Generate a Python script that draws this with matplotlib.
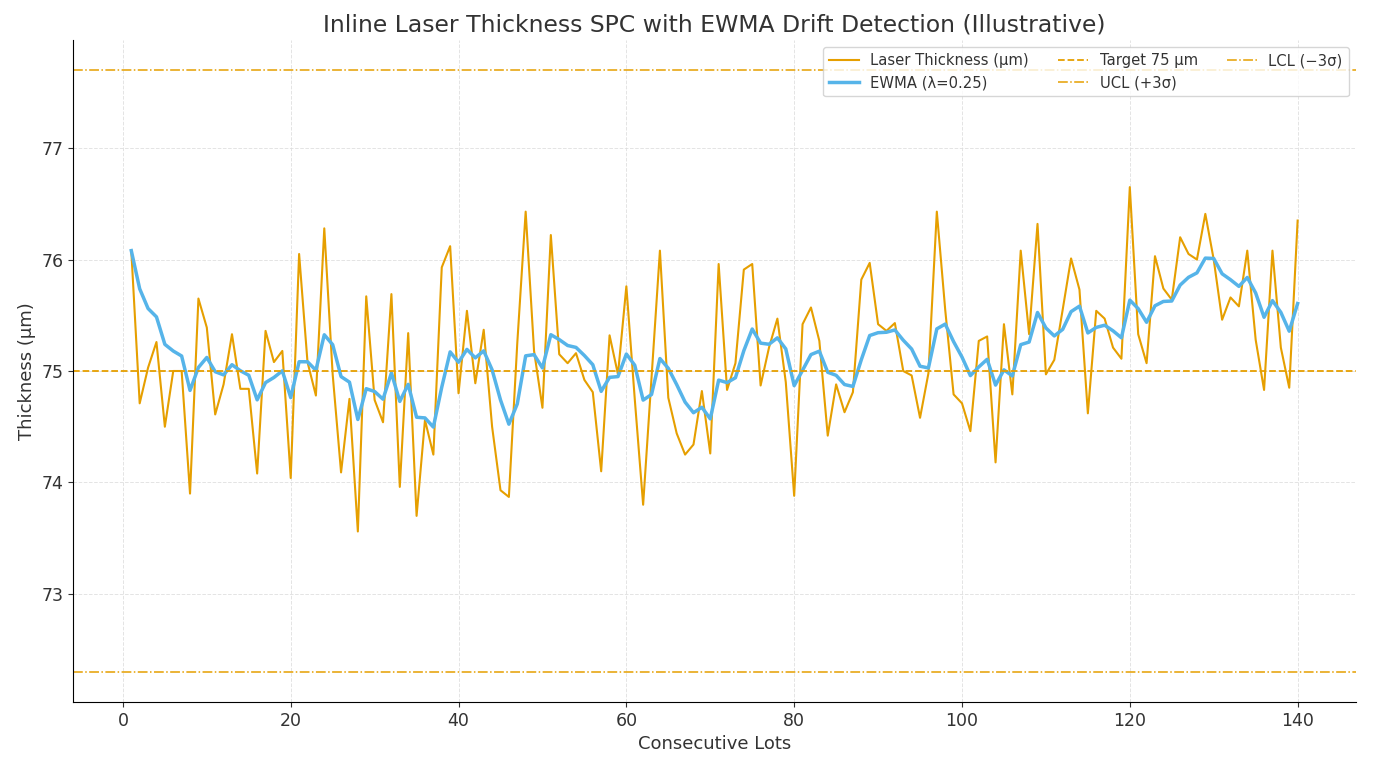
import numpy as np
import matplotlib
matplotlib.use("Agg")
import matplotlib.pyplot as plt

lots = list(range(1, 141))
thickness = [
    76.08, 74.71, 75.03, 75.26, 74.50, 75.00, 75.00, 73.90, 75.65, 75.39,
    74.61, 74.88, 75.33, 74.84, 74.84, 74.08, 75.36, 75.08, 75.18, 74.04,
    76.05, 75.08, 74.78, 76.28, 74.97, 74.09, 74.75, 73.56, 75.67, 74.74,
    74.54, 75.69, 73.96, 75.34, 73.70, 74.56, 74.25, 75.93, 76.12, 74.80,
    75.54, 74.89, 75.37, 74.50, 73.93, 73.87, 75.25, 76.43, 75.18, 74.67,
    76.22, 75.15, 75.07, 75.16, 74.92, 74.81, 74.10, 75.32, 74.97, 75.76,
    74.75, 73.80, 74.94, 76.08, 74.76, 74.44, 74.25, 74.34, 74.82, 74.26,
    75.96, 74.83, 75.07, 75.91, 75.96, 74.87, 75.21, 75.47, 74.90, 73.88,
    75.42, 75.57, 75.27, 74.42, 74.88, 74.63, 74.81, 75.82, 75.97, 75.42,
    75.36, 75.43, 75.00, 74.96, 74.58, 74.98, 76.43, 75.55, 74.79, 74.71,
    74.46, 75.27, 75.31, 74.18, 75.42, 74.79, 76.08, 75.33, 76.32, 74.97,
    75.10, 75.55, 76.01, 75.73, 74.62, 75.54, 75.47, 75.21, 75.11, 76.65,
    75.33, 75.07, 76.03, 75.74, 75.64, 76.20, 76.05, 76.00, 76.41, 76.00,
    75.46, 75.66, 75.58, 76.08, 75.28, 74.83, 76.08, 75.21, 74.85, 76.35,
]
target = 75.0
ucl = 77.7
lcl = 72.3
lam = 0.25

# EWMA computed from the thickness series (as stated in the legend)
ewma = []
for i, v in enumerate(thickness):
    ewma.append(v if i == 0 else lam * v + (1 - lam) * ewma[-1])

TXT = "#333333"
plt.rcParams.update({
    "font.family": ["DejaVu Sans"],
    "text.color": TXT,
    "axes.labelcolor": TXT,
    "xtick.color": TXT,
    "ytick.color": TXT,
})

ORANGE = "#E69F00"
BLUE = "#56B4E9"

fig = plt.figure(figsize=(13.9, 7.59), dpi=100)
ax = fig.add_axes([0.0525, 0.0751, 0.923, 0.8722])

ax.plot(lots, thickness, color=ORANGE, lw=1.5, label="Laser Thickness (µm)")
ax.plot(lots, ewma, color=BLUE, lw=2.5, label="EWMA (λ=0.25)")
ax.axhline(target, color=ORANGE, ls="--", lw=1.3, label="Target 75 µm")
ax.axhline(ucl, color=ORANGE, ls="-.", lw=1.1, label="UCL (+3σ)")
ax.axhline(lcl, color=ORANGE, ls="-.", lw=1.1, label="LCL (−3σ)")

ax.set_title("Inline Laser Thickness SPC with EWMA Drift Detection (Illustrative)",
             fontsize=16.9, color=TXT)
ax.set_xlabel("Consecutive Lots", fontsize=13)
ax.set_ylabel("Thickness (µm)", fontsize=13)
ax.tick_params(labelsize=12.5)
ax.set_yticks([73, 74, 75, 76, 77])
ax.grid(True, ls="--", lw=0.7, color="#dddddd", alpha=0.8)
for s in ("top", "right"):
    ax.spines[s].set_visible(False)

ax.legend(loc="upper right", ncol=3, fontsize=10.6, frameon=True)

fig.savefig("out.png", dpi=100)
